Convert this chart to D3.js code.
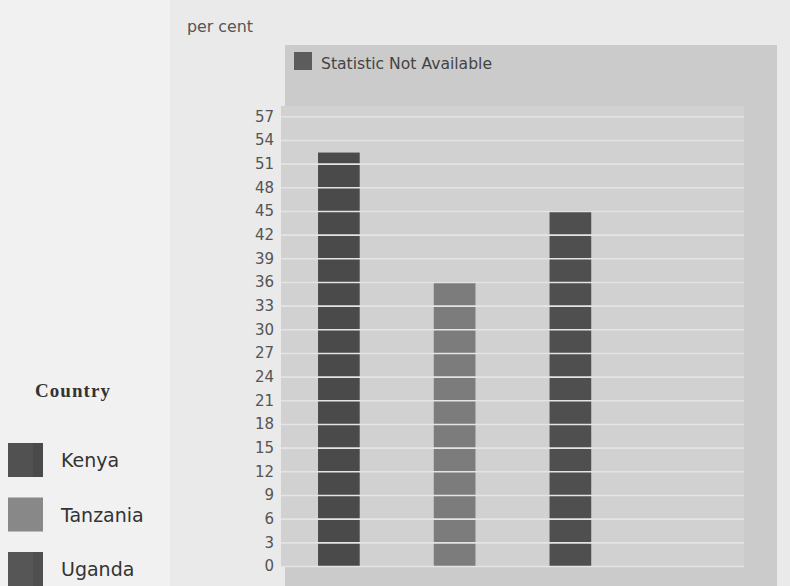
<!DOCTYPE html>
<html>
<head>
<meta charset="utf-8">
<script src="https://cdn.jsdelivr.net/npm/d3@7"></script>
<style>
  html, body { margin: 0; padding: 0; background: #efefef; }
  svg { display: block; }
</style>
</head>
<body>
<svg id="chart" width="790" height="586"></svg>
<script>
// ---- data ----
const categories = ["Kenya", "Tanzania", "Uganda", "Statistic Not Available"];
const values = [52.4, 36, 45, null];
const barColors = ["#4a4a4a", "#7c7c7c", "#4f4f4f", "#5c5c5c"];
const yTicks = [0, 3, 6, 9, 12, 15, 18, 21, 24, 27, 30, 33, 36, 39, 42, 45, 48, 51, 54, 57];
const legendCountries = ["Kenya", "Tanzania", "Uganda"];
const yMax = 58.3;

const svg = d3.select("#chart");

// page background with light left strip
svg.append("rect").attr("x", 0).attr("y", 0).attr("width", 790).attr("height", 586).attr("fill", "#f1f1f1");
svg.append("rect").attr("x", 170).attr("y", 0).attr("width", 620).attr("height", 586).attr("fill", "#eaeaea");

// outer chart panel
svg.append("rect").attr("x", 285).attr("y", 45).attr("width", 492).attr("height", 541).attr("fill", "#cbcbcb");

const plot = { left: 281, right: 744, top: 106, bottom: 566 };

// plot area background
svg.append("rect")
  .attr("x", plot.left).attr("y", plot.top)
  .attr("width", plot.right - plot.left).attr("height", plot.bottom - plot.top)
  .attr("fill", "#d1d1d1");

const x = d3.scaleBand().domain(categories).range([plot.left, plot.right]).paddingInner(0.64).paddingOuter(0.32);
const y = d3.scaleLinear().domain([0, yMax]).range([plot.bottom, plot.top]);

// bars
const data = categories.map((c, i) => ({ c, v: values[i], color: barColors[i] })).filter(d => d.v != null);
svg.append("g").selectAll("rect").data(data).join("rect")
  .attr("x", d => x(d.c))
  .attr("width", x.bandwidth())
  .attr("y", d => y(d.v))
  .attr("height", d => y(0) - y(d.v))
  .attr("fill", d => d.color);

// grid lines on top of bars
const grid = svg.append("g")
  .attr("transform", `translate(${plot.left},0)`)
  .call(d3.axisLeft(y).tickValues(yTicks).tickSize(-(plot.right - plot.left)).tickFormat(""));
grid.select(".domain").remove();
grid.selectAll(".tick line").attr("stroke", "#e4e4e4").attr("stroke-width", 1.6);

// y axis labels
const yAxis = svg.append("g")
  .attr("transform", `translate(${plot.left - 2},0)`)
  .call(d3.axisLeft(y).tickValues(yTicks).tickSize(0).tickPadding(5));
yAxis.select(".domain").remove();
yAxis.selectAll("text")
  .attr("fill", "#555")
  .style("font-family", "DejaVu Sans, sans-serif")
  .style("font-size", "15px");

// y axis title
svg.append("text").attr("x", 187).attr("y", 32).text("per cent")
  .attr("fill", "#555").style("font-family", "DejaVu Sans, sans-serif").style("font-size", "15px")
  .attr("textLength", 66).attr("lengthAdjust", "spacingAndGlyphs");

// top legend
svg.append("rect").attr("x", 294).attr("y", 52).attr("width", 18).attr("height", 18).attr("fill", barColors[3]);
svg.append("text").attr("x", 321).attr("y", 69).text("Statistic Not Available")
  .attr("fill", "#444").style("font-family", "DejaVu Sans, sans-serif").style("font-size", "15px")
  .attr("textLength", 171).attr("lengthAdjust", "spacingAndGlyphs");

// left legend
svg.append("text").attr("x", 35).attr("y", 397).text("Country")
  .attr("fill", "#333").style("font-family", "Liberation Serif, serif").style("font-weight", "bold").style("font-size", "19px")
  .attr("textLength", 75);

const lg = svg.append("g").selectAll("g").data(legendCountries).join("g")
  .attr("transform", (d, i) => `translate(8,${443 + i * 54.5})`);
lg.append("rect").attr("width", 35).attr("height", 34)
  .attr("fill", d => d3.color(barColors[categories.indexOf(d)]).brighter(0.25));
lg.filter(d => d !== "Tanzania").append("rect").attr("x", 25).attr("width", 10).attr("height", 34)
  .attr("fill", d => barColors[categories.indexOf(d)]);
lg.append("text").attr("x", 53).attr("y", 24).text(d => d)
  .attr("fill", "#333").style("font-family", "DejaVu Sans, sans-serif").style("font-size", "19px");
</script>
</body>
</html>
